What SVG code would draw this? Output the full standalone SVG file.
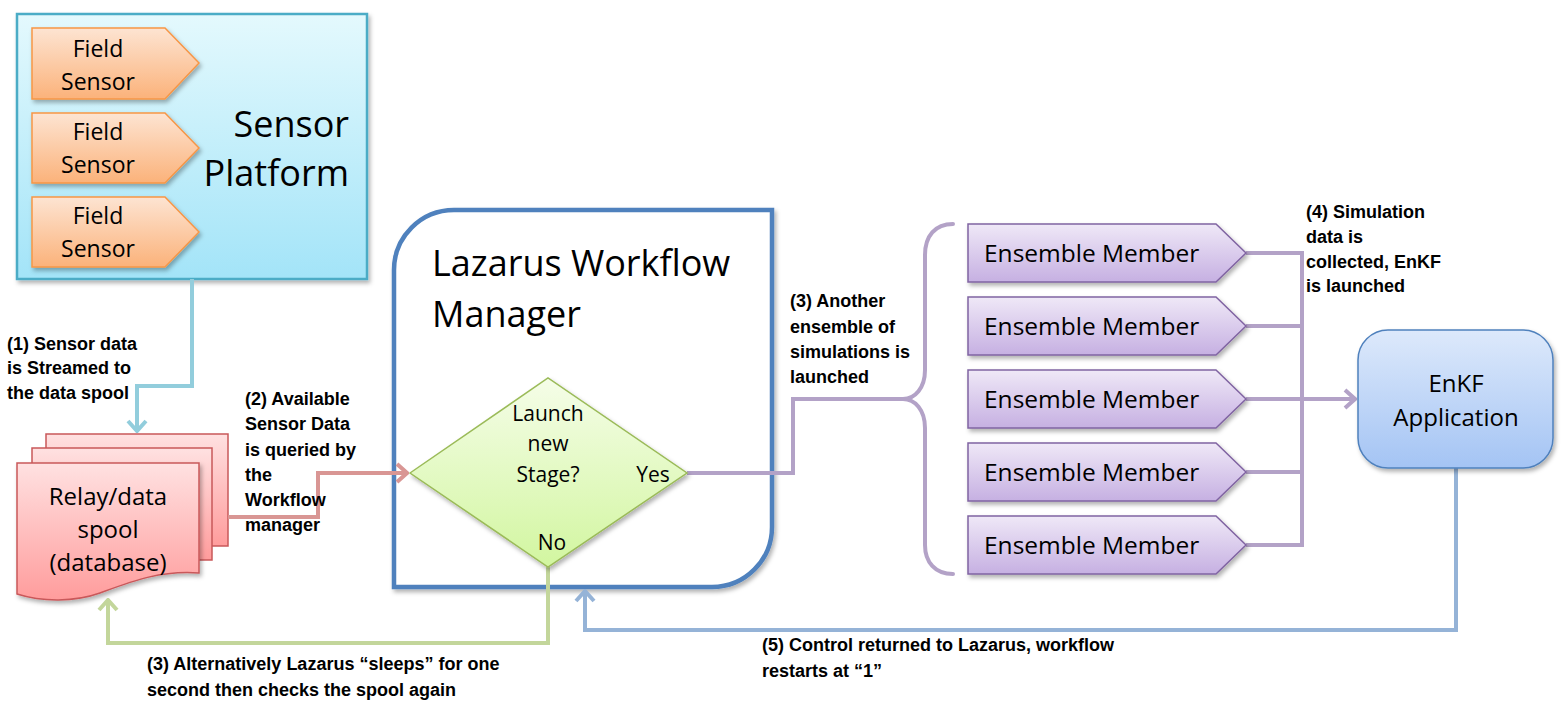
<svg xmlns="http://www.w3.org/2000/svg" width="1562" height="708" viewBox="0 0 1562 708">
<style>
.t{font-family:"Open Sans","Liberation Sans",sans-serif;fill:#000}
.lb{font-family:"Liberation Sans",Arial,sans-serif;font-weight:bold;font-size:18px;fill:#000}
.c{fill:none;stroke-width:4;stroke-linejoin:miter}
.fs{fill:url(#gOr);stroke:#f79646;stroke-width:1.5}
.em{fill:url(#gPu);stroke:#8064a2;stroke-width:1.5}
.rl{fill:url(#gRe);stroke:#c9585a;stroke-width:1.5}
</style>
<defs>
<linearGradient id="gCy" x1="0" y1="0" x2="0" y2="1"><stop offset="0" stop-color="#e4f9fd"/><stop offset="1" stop-color="#a3e4f8"/></linearGradient>
<linearGradient id="gOr" x1="0" y1="0" x2="0" y2="1"><stop offset="0" stop-color="#fde4d2"/><stop offset="1" stop-color="#fbb27a"/></linearGradient>
<linearGradient id="gRe" x1="0" y1="0" x2="0" y2="1"><stop offset="0" stop-color="#ffe1e1"/><stop offset="1" stop-color="#ff9c9c"/></linearGradient>
<linearGradient id="gGr" x1="0" y1="0" x2="0" y2="1"><stop offset="0" stop-color="#f5fde8"/><stop offset="1" stop-color="#d2f6a0"/></linearGradient>
<linearGradient id="gPu" x1="0" y1="0" x2="0" y2="1"><stop offset="0" stop-color="#efe8f7"/><stop offset="1" stop-color="#c6b0e2"/></linearGradient>
<linearGradient id="gBl" x1="0" y1="0" x2="0" y2="1"><stop offset="0" stop-color="#dde9fb"/><stop offset="1" stop-color="#a4c4f4"/></linearGradient>
<filter id="sh" x="-10%" y="-10%" width="130%" height="130%"><feDropShadow dx="2" dy="3" stdDeviation="2" flood-color="#000" flood-opacity="0.3"/></filter>
<marker id="mCy" viewBox="0 0 14 22" refX="12" refY="11" markerWidth="14" markerHeight="22" markerUnits="userSpaceOnUse" orient="auto"><path d="M2,2 L12,11 L2,20" fill="none" stroke="#92cddc" stroke-width="4"/></marker>
<marker id="mRe" viewBox="0 0 14 22" refX="12" refY="11" markerWidth="14" markerHeight="22" markerUnits="userSpaceOnUse" orient="auto"><path d="M2,2 L12,11 L2,20" fill="none" stroke="#d99694" stroke-width="4"/></marker>
<marker id="mPu" viewBox="0 0 14 22" refX="12" refY="11" markerWidth="14" markerHeight="22" markerUnits="userSpaceOnUse" orient="auto"><path d="M2,2 L12,11 L2,20" fill="none" stroke="#b3a2c7" stroke-width="4"/></marker>
<marker id="mGr" viewBox="0 0 14 22" refX="12" refY="11" markerWidth="14" markerHeight="22" markerUnits="userSpaceOnUse" orient="auto"><path d="M2,2 L12,11 L2,20" fill="none" stroke="#c3d69b" stroke-width="4"/></marker>
<marker id="mBl" viewBox="0 0 14 22" refX="12" refY="11" markerWidth="14" markerHeight="22" markerUnits="userSpaceOnUse" orient="auto"><path d="M2,2 L12,11 L2,20" fill="none" stroke="#95b3d7" stroke-width="4"/></marker>
</defs>
<rect width="1562" height="708" fill="#fff"/>

<g id="sensor-platform">
<rect x="17" y="14" width="350" height="265" fill="url(#gCy)" stroke="#4bacc6" stroke-width="2.5" filter="url(#sh)"/>
<text class="t" font-size="36" text-anchor="end"><tspan x="349" y="137">Sensor</tspan><tspan x="349" y="186">Platform</tspan></text>
</g>
<g id="field-sensor-1">
<path class="fs" d="M32,28 H165 L199,63 L165,99 H32 Z" filter="url(#sh)"/>
<text class="t" font-size="23" text-anchor="middle"><tspan x="98" y="57">Field</tspan><tspan x="98" y="90">Sensor</tspan></text>
</g>
<g id="field-sensor-2">
<path class="fs" d="M32,113 H165 L199,148 L165,183 H32 Z" filter="url(#sh)"/>
<text class="t" font-size="23" text-anchor="middle"><tspan x="98" y="140">Field</tspan><tspan x="98" y="173">Sensor</tspan></text>
</g>
<g id="field-sensor-3">
<path class="fs" d="M32,197 H165 L199,232 L165,267 H32 Z" filter="url(#sh)"/>
<text class="t" font-size="23" text-anchor="middle"><tspan x="98" y="224">Field</tspan><tspan x="98" y="257">Sensor</tspan></text>
</g>

<g id="relay-spool">
<rect class="rl" x="46" y="434" width="182" height="112"/>
<rect class="rl" x="32" y="448" width="180" height="112"/>
<path class="rl" d="M17,463 H199 V573 C160,570 130,582 100,593 C75,602 42,602 17,594 Z" filter="url(#sh)"/>
<text class="t" font-size="24" text-anchor="middle"><tspan x="108" y="505">Relay/data</tspan><tspan x="108" y="538">spool</tspan><tspan x="108" y="571">(database)</tspan></text>
</g>

<g id="lazarus-manager">
<path d="M394,270 A60,60 0 0 1 454,210 H772 V527 A60,60 0 0 1 712,587 H394 Z" fill="#fff" stroke="#4f81bd" stroke-width="4.5" filter="url(#sh)"/>
<text class="t" font-size="36"><tspan x="432" y="276">Lazarus Workflow</tspan><tspan x="432" y="327">Manager</tspan></text>
</g>

<g id="connectors">
<path class="c" stroke="#92cddc" d="M192,279 V386 H137 V431" marker-end="url(#mCy)"/>
<path class="c" stroke="#d99694" d="M228,517 H318 V473 H407" marker-end="url(#mRe)"/>
<path class="c" stroke="#b3a2c7" d="M687,473 H793 V399 H903"/>
<path class="c" stroke="#b3a2c7" stroke-linecap="round" d="M953,224 C935,224 925,236 925,255 L925,370 C925,388 915,399 903,399 C915,399 925,410 925,428 L925,545 C925,562 935,574 953,574"/>
<path class="c" stroke="#b3a2c7" d="M1246,253 H1302 M1246,326 H1302 M1246,472 H1302 M1246,545 H1302 M1302,251 V547"/>
<path class="c" stroke="#b3a2c7" d="M1246,399 H1355" marker-end="url(#mPu)"/>
<path class="c" stroke="#c3d69b" d="M548,567 V643 H108 V600" marker-end="url(#mGr)"/>
<path class="c" stroke="#95b3d7" d="M1456,468 V630 H585 V591" marker-end="url(#mBl)"/>
</g>

<g id="decision">
<path d="M410,473 L548,378 L687,473 L548,567 Z" fill="url(#gGr)" stroke="#9bbb59" stroke-width="1.5" filter="url(#sh)"/>
<text class="t" font-size="21" text-anchor="middle"><tspan x="548" y="421">Launch</tspan><tspan x="548" y="451">new</tspan><tspan x="548" y="482">Stage?</tspan></text>
<text class="t" font-size="21" text-anchor="middle" x="653" y="482">Yes</text>
<text class="t" font-size="21" text-anchor="middle" x="552" y="550">No</text>
</g>

<g id="ensemble-1"><path class="em" d="M968,224 H1216 L1246,253 L1216,282 H968 Z" filter="url(#sh)"/><text class="t" font-size="24.5" x="984" y="262">Ensemble Member</text></g>
<g id="ensemble-2"><path class="em" d="M968,297 H1216 L1246,326 L1216,355 H968 Z" filter="url(#sh)"/><text class="t" font-size="24.5" x="984" y="335">Ensemble Member</text></g>
<g id="ensemble-3"><path class="em" d="M968,370 H1216 L1246,399 L1216,428 H968 Z" filter="url(#sh)"/><text class="t" font-size="24.5" x="984" y="408">Ensemble Member</text></g>
<g id="ensemble-4"><path class="em" d="M968,443 H1216 L1246,472 L1216,501 H968 Z" filter="url(#sh)"/><text class="t" font-size="24.5" x="984" y="481">Ensemble Member</text></g>
<g id="ensemble-5"><path class="em" d="M968,516 H1216 L1246,545 L1216,574 H968 Z" filter="url(#sh)"/><text class="t" font-size="24.5" x="984" y="554">Ensemble Member</text></g>

<g id="enkf">
<rect x="1358" y="330" width="195" height="138" rx="30" ry="30" fill="url(#gBl)" stroke="#4f81bd" stroke-width="1.5" filter="url(#sh)"/>
<text class="t" font-size="24" text-anchor="middle"><tspan x="1456" y="392">EnKF</tspan><tspan x="1456" y="426">Application</tspan></text>
</g>

<g id="labels">
<text class="lb"><tspan x="7" y="350">(1) Sensor data</tspan><tspan x="7" y="374">is Streamed to</tspan><tspan x="7" y="399">the data spool</tspan></text>
<text class="lb"><tspan x="245" y="405">(2) Available</tspan><tspan x="245" y="430">Sensor Data</tspan><tspan x="245" y="456">is queried by</tspan><tspan x="245" y="481">the</tspan><tspan x="245" y="506">Workflow</tspan><tspan x="245" y="531">manager</tspan></text>
<text class="lb"><tspan x="790" y="307">(3) Another</tspan><tspan x="790" y="333">ensemble of</tspan><tspan x="790" y="358">simulations is</tspan><tspan x="790" y="383">launched</tspan></text>
<text class="lb"><tspan x="1306" y="218">(4) Simulation</tspan><tspan x="1306" y="243">data is</tspan><tspan x="1306" y="268">collected, EnKF</tspan><tspan x="1306" y="292">is launched</tspan></text>
<text class="lb"><tspan x="147" y="670">(3) Alternatively Lazarus “sleeps” for one</tspan><tspan x="147" y="696">second then checks the spool again</tspan></text>
<text class="lb"><tspan x="762" y="651">(5) Control returned to Lazarus, workflow</tspan><tspan x="762" y="677">restarts at “1”</tspan></text>
</g>
</svg>
